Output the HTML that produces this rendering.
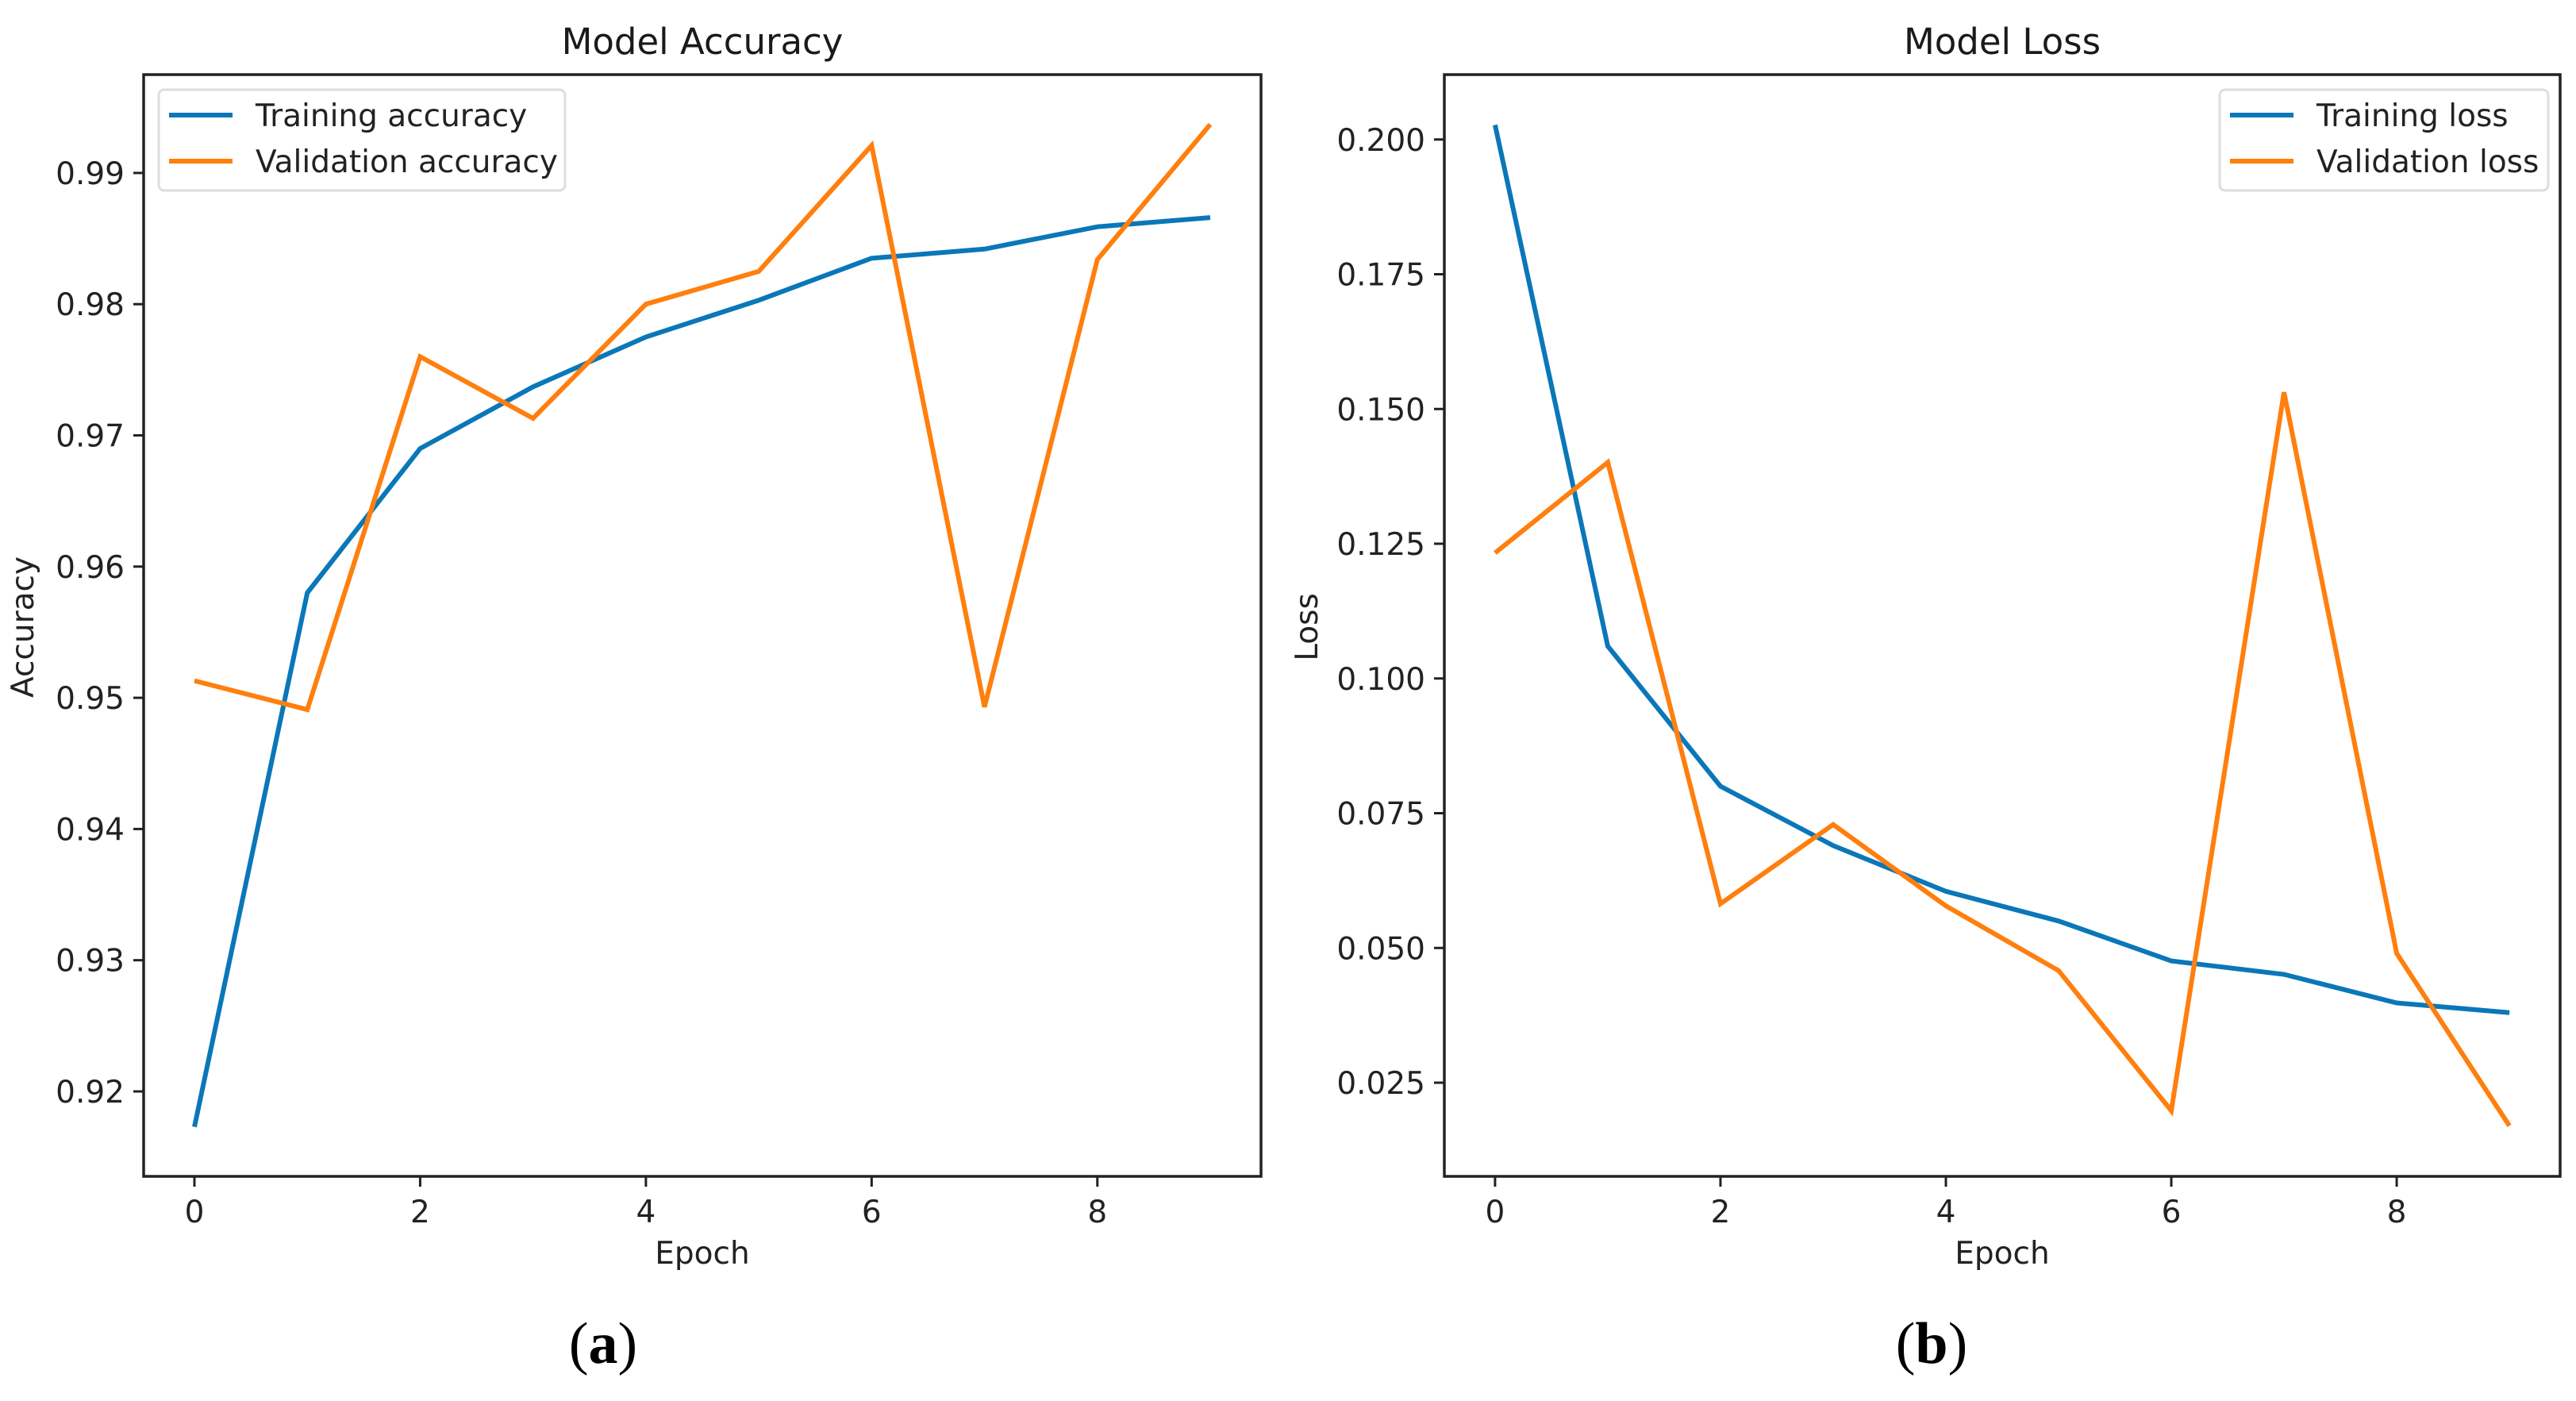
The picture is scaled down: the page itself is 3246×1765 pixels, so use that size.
<!DOCTYPE html>
<html><head><meta charset="utf-8"><style>
html,body{margin:0;padding:0;background:#fff}
svg{display:block;font-family:"DejaVu Sans","Liberation Sans",sans-serif}
</style></head><body>
<svg id="fig" width="3246" height="1765" viewBox="0 0 3246 1765" xmlns="http://www.w3.org/2000/svg">
<rect width="3246" height="1765" fill="#fff"/>
</svg>
<script>
const epochs=[0,1,2,3,4,5,6,7,8,9];
const accTrain=[0.9173,0.958,0.969,0.9737,0.9775,0.9803,0.9835,0.9842,0.9859,0.9866];
const accVal=[0.9513,0.9491,0.976,0.9713,0.980,0.9825,0.9921,0.9493,0.9834,0.9937];
const lossTrain=[0.2027,0.106,0.080,0.069,0.0605,0.055,0.0476,0.0451,0.0398,0.0380];
const lossVal=[0.1233,0.1401,0.0582,0.0729,0.0578,0.0458,0.0198,0.1531,0.0490,0.0170];
const xTicks=[0,2,4,6,8];
const accTicks=[0.92,0.93,0.94,0.95,0.96,0.97,0.98,0.99];
const accTickLabels=["0.92","0.93","0.94","0.95","0.96","0.97","0.98","0.99"];
const lossTicks=[0.025,0.05,0.075,0.1,0.125,0.15,0.175,0.2];
const lossTickLabels=["0.025","0.050","0.075","0.100","0.125","0.150","0.175","0.200"];

const NS="http://www.w3.org/2000/svg";
const svg=document.getElementById('fig');
function el(tag,attrs,parent,text){const e=document.createElementNS(NS,tag);for(const k in attrs)e.setAttribute(k,attrs[k]);if(text!==undefined)e.textContent=text;(parent||svg).appendChild(e);return e;}

function panel(o){
  const g=el('g',{});
  
  
  const L=o.left,R=o.right,T=94,B=1482;
  const xs=v=>L+(v-(-0.45))/(9.9)*(R-L);
  const ys=v=>o.y0px+(v-o.y0)*o.pxPer;
  const t=el('text',{x:(L+R)/2,y:68,'font-size':45,'text-anchor':'middle',fill:'#1a1a1a'},g,o.title);
  
  
  o.yTicks.forEach((v,i)=>{
    const y=ys(v);
    el('line',{x1:L-13,x2:L,y1:y,y2:y,stroke:'#222','stroke-width':3},g);
    const tl=el('text',{x:L-24,y:y+14,'font-size':39,'text-anchor':'end',fill:'#222'},g,o.yLabels[i]);
    
    
  });
  xTicks.forEach(v=>{
    const x=xs(v);
    el('line',{x1:x,x2:x,y1:B,y2:B+13,stroke:'#222','stroke-width':3},g);
    const tl=el('text',{x:x,y:B+58,'font-size':39,'text-anchor':'middle',fill:'#222'},g,String(v));
    
    
  });
  const xl=el('text',{x:(L+R)/2,y:1592,'font-size':39,'text-anchor':'middle',fill:'#222'},g,'Epoch');
  
  
  const yl=el('text',{x:o.ylabX,y:o.ylabY,'font-size':39,'text-anchor':'middle',fill:'#222',transform:'rotate(-90 '+o.ylabX+' '+o.ylabY+')'},g,o.ylabel);
  
  
  [[o.train,'#0a77b8','training'],[o.val,'#ff7f0e','validation']].forEach(s=>{
    const pts=epochs.map((e,i)=>xs(e)+','+ys(s[0][i])).join(' ');
    const p=el('polyline',{points:pts,fill:'none',stroke:s[1],'stroke-width':6,'stroke-linejoin':'miter'},g);
    
    
  });
  el('rect',{x:L,y:T,width:R-L,height:B-T,fill:'none',stroke:'#222','stroke-width':3.5},g);
  const lg=el('g',{},g);
  
  
  el('rect',{x:o.legX,y:113,width:o.legW,height:127,rx:7,fill:'#fff',stroke:'#ddd','stroke-width':3},lg);
  [[o.leg[0],'#0a77b8',145],[o.leg[1],'#ff7f0e',203]].forEach(e=>{
    el('line',{x1:o.legX+13,x2:o.legX+93,y1:e[2],y2:e[2],stroke:e[1],'stroke-width':6},lg);
    const lt=el('text',{x:o.legX+122,y:e[2]+14,'font-size':39,fill:'#222'},lg,e[0]);
    
    
  });
  const cap=el('text',{x:o.capX,y:1717,'font-size':74,'text-anchor':'middle','font-family':'"Liberation Serif",serif',fill:'#000'},svg);
  cap.innerHTML='(<tspan font-weight="bold">'+o.cap+'</tspan>)';
  
  
}
panel({name:'accuracy-chart',title:'Model Accuracy',left:181,right:1589,y0:0.92,y0px:1375,pxPer:-16530,
  yTicks:accTicks,yLabels:accTickLabels,train:accTrain,val:accVal,ylabel:'Accuracy',ylabX:42,ylabY:790,
  legX:200,legW:512,leg:['Training accuracy','Validation accuracy'],capX:760,cap:'a'});
panel({name:'loss-chart',title:'Model Loss',left:1820,right:3226,y0:0.025,y0px:1364,pxPer:-6790,
  yTicks:lossTicks,yLabels:lossTickLabels,train:lossTrain,val:lossVal,ylabel:'Loss',ylabX:1660,ylabY:790,
  legX:2797,legW:414,leg:['Training loss','Validation loss'],capX:2434,cap:'b'});
</script>
</body></html>
